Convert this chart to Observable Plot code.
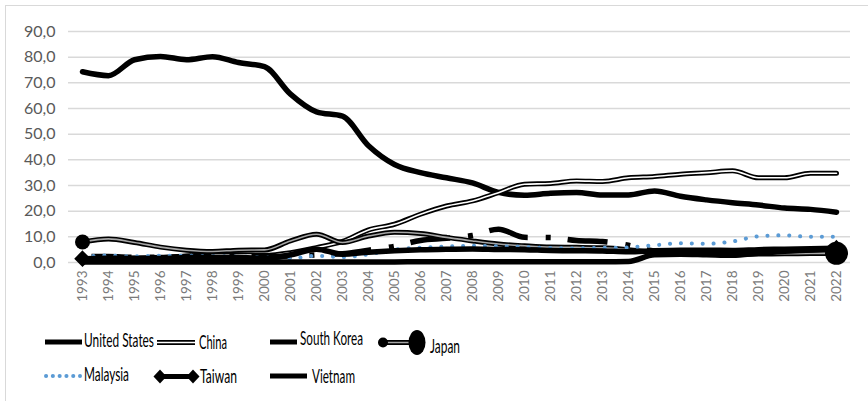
<!DOCTYPE html>
<html>
<head>
<meta charset="utf-8">
<script src="https://cdn.jsdelivr.net/npm/d3@7"></script>
<script src="https://cdn.jsdelivr.net/npm/@observablehq/plot@0.6"></script>
<style>
  html, body { margin: 0; padding: 0; background: #fff; overflow: hidden; }
  #wrap { position: relative; width: 868px; height: 401px; }
  #frame { position: absolute; left: 5px; top: 5px; width: 870px; height: 400px;
           border-left: 1px solid #d9d9d9; border-top: 1px solid #d9d9d9; box-sizing: border-box; }
  #chart { position: absolute; left: 0; top: 0; }
  #legend { position: absolute; left: 0; top: 310px; }
</style>
</head>
<body>
<div id="wrap">
  <div id="frame"></div>
  <div id="chart"></div>
  <svg id="legend" width="868" height="91"></svg>
</div>
<script>
const years = [1993,1994,1995,1996,1997,1998,1999,2000,2001,2002,2003,2004,2005,2006,2007,
               2008,2009,2010,2011,2012,2013,2014,2015,2016,2017,2018,2019,2020,2021,2022];
const yTicks = [0,10,20,30,40,50,60,70,80,90];
const seriesNames = ["United States","China","South Korea","Japan","Malaysia","Taiwan","Vietnam"];

const unitedStates = [74.3,72.8,79.0,80.3,79.0,80.2,77.9,76.3,65.6,58.7,57.0,45.5,38.2,35.0,33.0,
                      31.0,27.3,26.2,27.0,27.3,26.3,26.3,27.9,25.8,24.4,23.3,22.4,21.2,20.7,19.6];
const china        = [1.2,1.5,1.8,2.0,2.5,3.0,3.0,2.8,3.8,5.8,8.2,12.7,14.9,18.8,22.0,
                      24.0,27.2,30.5,30.8,31.8,31.6,33.0,33.5,34.4,35.0,35.7,33.0,33.0,34.8,34.8];
const southKorea   = [2.3,2.3,2.0,2.0,2.3,2.5,2.5,2.3,2.5,3.0,3.4,4.8,6.3,8.6,9.4,
                      10.5,13.0,9.8,9.7,8.6,8.2,6.7,4.5,4.2,4.0,3.8,4.0,4.3,4.5,5.0];
const japan        = [8.0,9.2,7.8,6.0,4.8,4.3,4.8,4.9,8.4,11.0,7.8,10.3,11.8,11.3,9.8,
                      8.4,7.2,6.5,6.0,5.9,5.7,5.0,4.0,3.5,3.3,3.2,3.3,3.4,3.5,3.6];
const malaysia     = [2.3,2.7,2.4,2.6,2.6,2.5,2.3,2.0,1.6,2.6,2.1,3.2,5.0,5.8,6.2,
                      6.5,6.3,6.0,5.6,5.5,5.7,5.9,6.7,7.5,7.3,8.2,10.2,10.6,10.0,10.0];
const taiwan       = [1.5,1.7,1.6,1.6,1.9,2.0,2.0,1.6,3.0,5.2,3.2,4.0,4.6,5.0,5.2,
                      5.3,5.1,5.0,4.7,4.6,4.5,4.2,4.6,4.8,4.8,4.7,5.0,5.2,5.4,5.6];
const vietnam      = [0.2,0.2,0.2,0.2,0.2,0.2,0.2,0.2,0.2,0.2,0.2,0.2,0.2,0.3,0.3,
                      0.3,0.3,0.3,0.3,0.3,0.3,0.4,3.0,3.2,3.0,2.8,3.6,4.4,4.9,5.5];

const mk = arr => years.map((y, i) => ({year: y, v: arr[i]}));
const ends = arr => { const d = mk(arr); return [d[0], d[d.length - 1]]; };
const L = {x: "year", y: "v", curve: "monotone-x", strokeLinejoin: "round"};
const BLUE = "#5b9bd5";

const chart = Plot.plot({
  width: 868, height: 310,
  marginLeft: 68, marginRight: 18, marginTop: 31, marginBottom: 48,
  style: {fontFamily: "Lato, 'Open Sans', sans-serif", color: "#595959", background: "transparent", overflow: "visible"},
  x: {type: "point", domain: years, padding: 0.5, label: null},
  y: {domain: [0, 90], label: null},
  marks: [
    Plot.ruleY(yTicks, {stroke: "#d9d9d9", strokeWidth: 1.5}),
    Plot.axisY(yTicks, {tickSize: 0, tickPadding: 13, fontSize: 16, label: null,
      tickFormat: d => d.toFixed(1).replace(".", ","), color: "#595959"}),
    Plot.axisX({tickRotate: -90, tickSize: 0, tickPadding: 8, fontSize: 13.5, label: null,
      tickFormat: d => String(d), color: "#7a7a7a"}),
    Plot.line(mk(unitedStates), {...L, stroke: "black", strokeWidth: 5.5}),
    Plot.line(mk(china), {...L, stroke: "black", strokeWidth: 5}),
    Plot.line(mk(china), {...L, stroke: "white", strokeWidth: 1.6}),
    Plot.line(mk(southKorea), {...L, stroke: "black", strokeWidth: 5.5,
      strokeDasharray: "40 18 5 17", strokeDashoffset: 71, strokeLinecap: "butt"}),
    Plot.line(mk(japan), {...L, stroke: "black", strokeWidth: 5}),
    Plot.line(mk(japan), {...L, stroke: "#a6a6a6", strokeWidth: 1.6}),
    Plot.dot(ends(japan).slice(0, 1), {x: "year", y: "v", r: 7.5, fill: "black"}),
    Plot.dot(ends(japan).slice(1), {x: "year", y: "v", r: 11.5, fill: "black"}),
    Plot.line(mk(malaysia), {...L, stroke: BLUE, strokeWidth: 4,
      strokeDasharray: "0.1 10.8", strokeLinecap: "round"}),
    Plot.line(mk(taiwan), {...L, stroke: "black", strokeWidth: 5.5}),
    Plot.dot(ends(taiwan), {x: "year", y: "v", r: 6.5, symbol: "diamond2", fill: "black", stroke: "black"}),
    Plot.line(mk(vietnam), {...L, stroke: "black", strokeWidth: 5.5})
  ]
});
document.getElementById("chart").append(chart);

// Legend (coordinates relative to legend svg, which starts at y=310)
const lg = d3.select("#legend");
const off = 310;
const txt = (name, x, baseline, len) => lg.append("text")
  .attr("x", x).attr("y", baseline - off)
  .attr("textLength", len).attr("lengthAdjust", "spacingAndGlyphs")
  .attr("font-family", "Lato, sans-serif")
  .attr("font-size", 19)
  .attr("fill", "black").text(name);
const seg = (x1, x2, y, w, c, extra = {}) => {
  const l = lg.append("line").attr("x1", x1).attr("x2", x2).attr("y1", y - off).attr("y2", y - off)
    .attr("stroke", c).attr("stroke-width", w);
  for (const k in extra) l.attr(k, extra[k]);
  return l;
};
// United States
seg(45, 82, 342, 5, "black");
txt(seriesNames[0], 84, 347, 70);
// China
seg(157, 195, 342.5, 5, "black");
seg(157, 195, 342.5, 1.6, "white");
txt(seriesNames[1], 199, 349, 28);
// South Korea
seg(270, 297, 342, 5, "black");
txt(seriesNames[2], 300, 345, 63);
// Japan
seg(383, 417, 342.5, 5, "black");
seg(383, 417, 342.5, 1.6, "#a6a6a6");
lg.append("circle").attr("cx", 383).attr("cy", 342.5 - off).attr("r", 5).attr("fill", "black");
lg.append("ellipse").attr("cx", 417).attr("cy", 342.5 - off).attr("rx", 8.5).attr("ry", 12.5).attr("fill", "black");
txt(seriesNames[3], 430, 352.5, 30);
// Malaysia
seg(46, 80, 376, 4, BLUE, {"stroke-dasharray": "0.1 6.7", "stroke-linecap": "round"});
txt(seriesNames[4], 84, 381, 45);
// Taiwan
seg(160, 193, 376.5, 5, "black");
for (const cx of [160, 193]) {
  lg.append("path").attr("d", `M${cx},${376.5 - off - 7}L${cx + 6.5},${376.5 - off}L${cx},${376.5 - off + 7}L${cx - 6.5},${376.5 - off}Z`)
    .attr("fill", "black");
}
txt(seriesNames[5], 200, 383, 37);
// Vietnam
seg(270, 307, 376, 5, "black");
txt(seriesNames[6], 312, 383, 43);
</script>
</body>
</html>
